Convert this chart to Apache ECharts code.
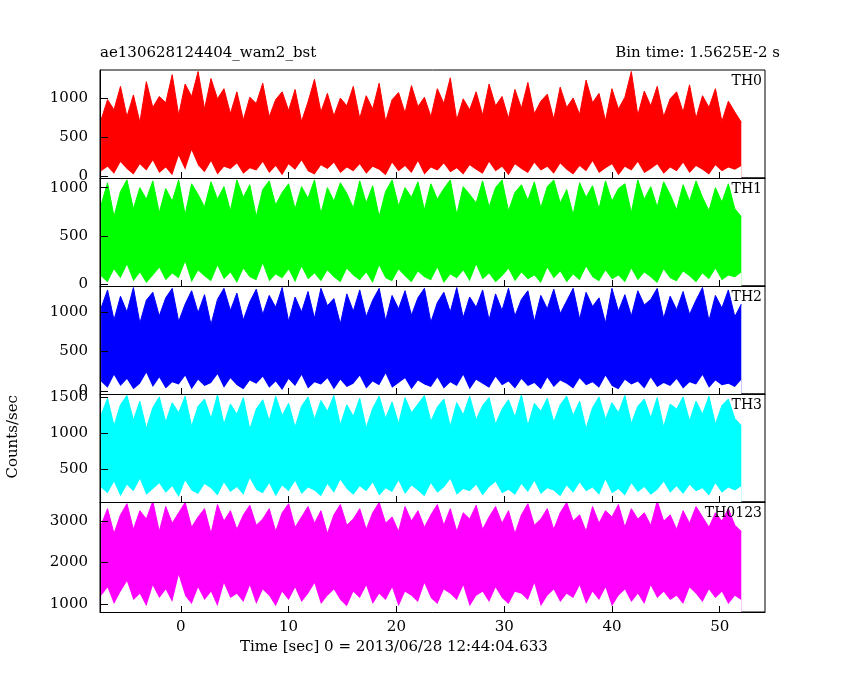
<!DOCTYPE html>
<html>
<head>
<meta charset="utf-8">
<script src="https://cdn.jsdelivr.net/npm/echarts@6/dist/echarts.min.js"></script>
<style>html,body{margin:0;background:#fff}#c{width:850px;height:680px}</style>
</head>
<body>
<div id="c"></div>
<script>
// light curve bins (sampled every 0.6 s from t = -7.4 s)
const t0 = -7.4, binStep = 0.6;

const th0Hi = [720,980,850,1150,760,1040,690,1210,880,1020,940,1300,780,1180,1020,1340,860,1250,990,1120,800,1080,720,1010,930,1190,760,980,1080,840,1110,700,950,1240,820,1060,770,1000,900,1150,740,1030,860,1190,700,980,1070,810,1160,890,1010,760,1120,930,1260,720,990,850,1080,780,1180,900,1020,740,1110,870,1200,800,960,1050,730,1140,880,1000,790,1230,940,1060,710,1120,860,1010,1340,780,1090,900,1150,760,990,1080,820,1170,740,1030,880,1120,700,960,820,690];
const th0Lo = [60,120,30,180,90,20,150,70,200,40,110,10,260,80,330,140,50,190,20,120,90,160,30,100,70,180,40,130,10,150,80,200,60,20,140,90,170,40,110,60,150,30,120,80,10,170,60,130,40,190,20,110,70,160,50,100,20,140,80,30,180,60,120,10,150,90,40,170,70,120,30,160,80,20,130,60,190,40,100,150,10,120,70,180,40,90,150,30,110,60,170,40,130,80,20,140,60,110,80,130];

const th1Hi = [820,1050,700,960,1080,780,1000,880,1070,740,990,860,1080,720,1040,930,800,1060,880,1010,760,1080,900,1030,700,980,1070,820,950,1040,780,1010,890,1080,730,1000,860,1050,940,790,1070,840,1020,700,960,1080,810,1000,900,1060,770,1040,880,990,1080,720,1010,930,840,1070,800,1000,1080,760,950,1030,870,1060,790,1010,1080,840,980,720,1050,900,1020,780,1070,860,990,1040,740,1080,880,1010,800,1060,930,770,1030,860,1070,900,760,1000,850,1040,780,700];
const th1Lo = [80,20,150,60,200,30,120,10,90,170,40,110,60,230,20,140,80,30,190,50,120,10,160,70,40,210,30,100,60,150,20,180,50,110,30,140,70,20,160,90,40,120,10,190,60,30,150,80,20,130,70,40,170,10,100,60,140,30,200,50,110,20,80,160,30,120,50,90,10,170,60,130,20,100,40,180,70,30,140,50,90,20,160,40,120,70,10,150,60,30,130,80,20,110,50,160,40,90,70,120];

const th2Hi = [1050,1280,900,1200,1000,1310,860,1150,1250,950,1180,1300,880,1100,1270,990,1220,840,1160,1300,1020,1240,900,1130,1290,970,1210,1060,1310,880,1190,1000,1260,920,1300,1080,1170,850,1230,1010,1280,940,1150,1300,890,1210,1040,1270,960,1180,1300,870,1120,1250,1000,1310,930,1190,1060,1280,900,1230,1020,1300,950,1160,1270,880,1210,1040,1290,980,1140,1300,910,1250,1070,1180,860,1300,1010,1220,950,1270,1090,1160,1300,920,1200,1030,1260,970,1150,1310,890,1210,1050,1280,940,1100];
const th2Lo = [120,40,200,60,150,20,90,230,50,170,30,110,80,190,20,140,60,100,210,40,160,70,20,130,90,180,40,120,10,150,60,200,30,110,80,160,20,140,50,90,190,30,120,70,220,40,100,160,20,130,80,50,170,30,110,60,200,20,140,90,40,180,70,120,30,150,60,100,20,170,50,130,90,30,160,70,110,40,190,60,20,140,80,120,30,170,50,100,60,150,30,110,80,200,40,130,70,90,50,140];

const th3Hi = [1250,1480,1100,1390,1520,1180,1440,1060,1350,1500,1150,1420,1280,1510,1090,1370,1470,1200,1530,1120,1400,1260,1490,1050,1330,1460,1170,1510,1240,1410,1080,1370,1500,1190,1450,1300,1520,1110,1390,1230,1480,1070,1340,1510,1200,1430,1130,1490,1280,1400,1520,1160,1360,1470,1090,1420,1250,1510,1180,1380,1490,1120,1330,1460,1220,1530,1100,1410,1300,1480,1150,1390,1510,1240,1440,1060,1350,1500,1190,1420,1280,1520,1130,1370,1470,1210,1490,1080,1400,1330,1500,1170,1440,1260,1510,1120,1380,1470,1200,1100];
const th3Lo = [240,160,320,120,280,190,360,140,220,300,170,260,110,340,200,150,290,230,130,310,180,250,140,370,210,160,300,120,270,190,330,150,240,200,120,290,170,350,220,140,260,190,310,130,230,180,340,150,270,200,120,300,170,240,360,140,220,190,280,130,250,320,160,210,140,290,180,330,150,230,200,120,270,170,310,190,240,140,350,160,220,130,300,180,250,140,210,320,170,260,150,280,190,230,130,300,170,240,200,260];

const thAllHi = [2900,3300,2700,3150,3420,2800,3250,3050,3480,2750,3350,2950,3200,3450,2850,3100,3300,2700,3400,3000,3250,2800,3150,3380,2900,3050,3300,2750,3200,3420,2850,3100,3350,2950,3250,2700,3150,3400,2900,3050,3300,2800,3200,3450,2950,3100,2750,3350,3000,3250,2850,3150,3400,2900,3300,2750,3200,3050,3380,2800,3100,3350,2950,3250,2700,3150,3420,2900,3050,3300,2800,3200,3450,3000,3150,2750,3350,2950,3250,3100,3400,2850,3300,3050,3200,2900,3480,3000,3150,2800,3250,2950,3350,3100,2850,3200,3000,3300,2900,2750];
const thAllLo = [1200,1400,1000,1300,1550,1100,1250,950,1450,1150,1350,1050,1700,1200,1000,1400,1100,1300,950,1500,1150,1250,1050,1450,1000,1350,1200,950,1300,1100,1400,1050,1250,1500,1000,1200,1350,1100,950,1300,1150,1450,1000,1250,1100,1400,950,1300,1200,1050,1500,1150,1000,1350,1250,1100,1450,950,1200,1300,1050,1400,1150,1000,1300,1250,1100,1500,950,1200,1350,1050,1250,1150,1450,1000,1300,1100,1400,950,1200,1350,1050,1250,1000,1450,1150,1300,1100,1200,1000,1400,1250,1050,1350,1150,1300,1000,1200,1100];

const panelNames = ["TH0", "TH1", "TH2", "TH3", "TH0123"];
const panelColors = ["#ff0000", "#00ff00", "#0000ff", "#00ffff", "#ff00ff"];
const panelHi = [th0Hi, th1Hi, th2Hi, th3Hi, thAllHi];
const panelLo = [th0Lo, th1Lo, th2Lo, th3Lo, thAllLo];
const yRanges = [[-25, 1360], [-20, 1100], [-40, 1330], [40, 1540], [810, 3460]];
const yLabels = [[0, 500, 1000], [0, 500, 1000], [0, 500, 1000], [500, 1000, 1500], [1000, 2000, 3000]];
const xLabels = [0, 10, 20, 30, 40, 50];

const font = "DejaVu Serif";
const tops = [70, 178, 286, 394, 502];
const chart = echarts.init(document.getElementById("c"));

const grid = [], xAxis = [], yAxis = [], series = [];
tops.forEach((top, i) => {
  const last = i === tops.length - 1;
  grid.push({ left: 100, right: 85, top: top, height: last ? 110 : 108,
    show: true, borderColor: "#000", borderWidth: 1 });
  xAxis.push({ gridIndex: i, type: "value", min: -7.5, max: 54.2, z: 5,
    axisLine: { show: true, onZero: false, lineStyle: { color: "#000" } }, splitLine: { show: false },
    axisTick: { inside: true, length: 6, lineStyle: { color: "#000" }, customValues: xLabels },
    axisLabel: { show: last, customValues: xLabels, color: "#000", fontFamily: font, fontSize: 15,
      formatter: v => String(v) } });
  yAxis.push({ gridIndex: i, type: "value", min: yRanges[i][0], max: yRanges[i][1], z: 5,
    axisLine: { show: true, onZero: false, lineStyle: { color: "#000" } }, splitLine: { show: false },
    axisTick: { inside: true, length: 8, lineStyle: { color: "#000" }, customValues: yLabels[i] },
    axisLabel: { customValues: yLabels[i], color: "#000", fontFamily: font, fontSize: 15, margin: 12,
      formatter: v => String(v) } });
  const times = panelHi[i].map((_, k) => +(t0 + k * binStep).toFixed(2));
  // upper envelope, filled in panel colour
  series.push({ type: "line", xAxisIndex: i, yAxisIndex: i, symbol: "none", z: 2,
    lineStyle: { width: 1, color: panelColors[i] },
    areaStyle: { color: panelColors[i], opacity: 1, origin: "start" },
    data: times.map((x, k) => [x, panelHi[i][k]]) });
  // lower envelope, white gaps under the band
  series.push({ type: "line", xAxisIndex: i, yAxisIndex: i, symbol: "none", z: 3,
    lineStyle: { width: 0 },
    areaStyle: { color: "#fff", opacity: 1, origin: "start" },
    data: times.map((x, k) => [x, panelLo[i][k]]) });
});

const texts = [
  { type: "text", left: 100, top: 46, style: { text: "ae130628124404_wam2_bst", font: "15px " + font, fill: "#000" } },
  { type: "text", right: 70, top: 46, style: { text: "Bin time: 1.5625E-2 s", font: "15px " + font, fill: "#000" } },
  { type: "text", left: 240, top: 640, style: { text: "Time [sec] 0 = 2013/06/28 12:44:04.633", font: "15px " + font, fill: "#000" } },
  { type: "text", left: 6, top: 395, rotation: Math.PI / 2, style: { text: "Counts/sec", font: "15px " + font, fill: "#000" } }
];
panelNames.forEach((n, i) => {
  texts.push({ type: "text", right: 88, top: tops[i] + 4, z: 10, style: { text: n, font: "14px " + font, fill: "#000" } });
});

chart.setOption({
  animation: false,
  backgroundColor: "#fff",
  grid, xAxis, yAxis, series,
  graphic: texts
});
</script>
</body>
</html>
